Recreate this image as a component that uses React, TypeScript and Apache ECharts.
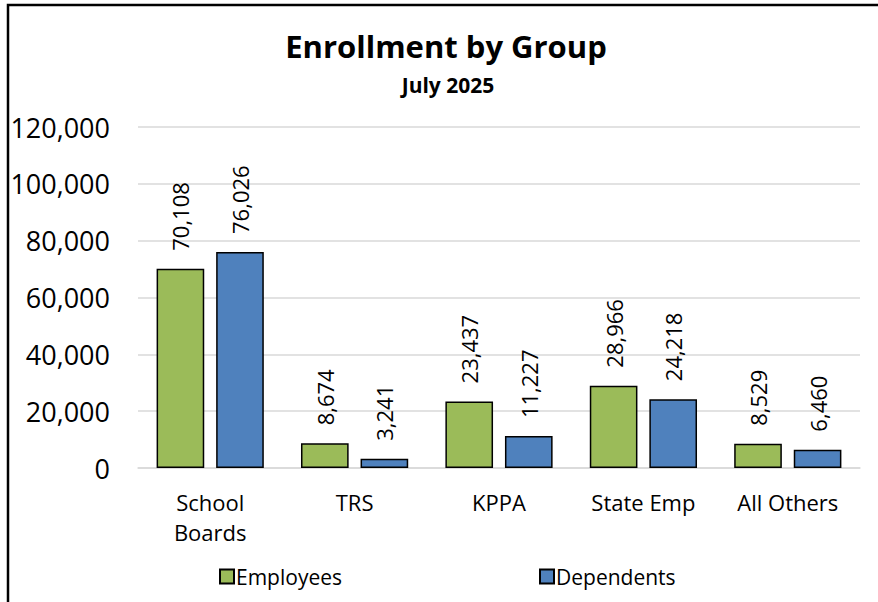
import React, { useEffect, useRef } from "react";
import * as echarts from "echarts";

const categories = ["School\nBoards", "TRS", "KPPA", "State Emp", "All Others"];
const employees = [70108, 8674, 23437, 28966, 8529];
const dependents = [76026, 3241, 11227, 24218, 6460];
const yTicks = { min: 0, max: 120000, interval: 20000 };

const FONT = "'Open Sans', 'Noto Sans', sans-serif";

export default function App() {
  const ref = useRef<HTMLDivElement>(null);
  useEffect(() => {
    const chart = echarts.init(ref.current!, null, { renderer: "svg" });
    const fmt = (v: number) => v.toLocaleString("en-US");
    const label = {
      show: true,
      position: "top",
      rotate: 90,
      align: "left",
      verticalAlign: "middle",
      distance: 18,
      fontSize: 22,
      fontFamily: FONT,
      color: "#000",
      formatter: (p: any) => fmt(p.value),
    };
    const legendText = { fontFamily: FONT, fontSize: 21, color: "#000", padding: [0, 0, 0, -3] };
    chart.setOption({
      animation: false,
      backgroundColor: "#fff",
      title: [
        {
          text: "Enrollment by Group",
          left: 441,
          top: 25,
          textAlign: "center",
          textStyle: { fontFamily: FONT, fontSize: 31, fontWeight: "bold", color: "#000" },
        },
        {
          text: "July 2025",
          left: 443,
          top: 69,
          textAlign: "center",
          textStyle: { fontFamily: FONT, fontSize: 21, fontWeight: "bold", color: "#000" },
        },
      ],
      graphic: [
        {
          type: "rect",
          shape: { x: 8, y: 5, width: 1000, height: 800 },
          style: { fill: "none", stroke: "#000", lineWidth: 2.5 },
          silent: true,
        },
      ],
      legend: [
        {
          data: ["Employees"],
          left: 214,
          top: 561,
          itemWidth: 14,
          itemHeight: 14,
          itemGap: 0,
          icon: "rect",
          textStyle: legendText,
        },
        {
          data: ["Dependents"],
          left: 534,
          top: 561,
          itemWidth: 14,
          itemHeight: 14,
          itemGap: 0,
          icon: "rect",
          textStyle: legendText,
        },
      ],
      grid: { left: 138, right: 18, top: 127, bottom: 134 },
      xAxis: {
        type: "category",
        data: categories,
        axisLine: { lineStyle: { color: "#d9d9d9", width: 1.5 } },
        axisTick: { show: false },
        axisLabel: {
          fontFamily: FONT,
          fontSize: 22,
          lineHeight: 30,
          color: "#000",
          margin: 19,
          interval: 0,
        },
      },
      yAxis: {
        type: "value",
        min: yTicks.min,
        max: yTicks.max,
        interval: yTicks.interval,
        axisLine: { show: false },
        axisTick: { show: false },
        splitLine: { lineStyle: { color: "#d9d9d9", width: 1.5 } },
        axisLabel: {
          fontFamily: FONT,
          fontSize: 27,
          color: "#000",
          margin: 28,
          formatter: (v: number) => fmt(v),
        },
      },
      series: [
        {
          name: "Employees",
          type: "bar",
          data: employees,
          barWidth: "33%",
          barGap: "25%",
          itemStyle: { color: "#9BBB59", borderColor: "#000", borderWidth: 1.5 },
          label,
        },
        {
          name: "Dependents",
          type: "bar",
          data: dependents,
          barWidth: "33%",
          barGap: "25%",
          itemStyle: { color: "#4F81BD", borderColor: "#000", borderWidth: 1.5 },
          label,
        },
      ],
    });
    return () => chart.dispose();
  }, []);
  return (
    <div
      ref={ref}
      style={{ position: "fixed", left: 0, top: 0, width: 878, height: 602 }}
    />
  );
}
